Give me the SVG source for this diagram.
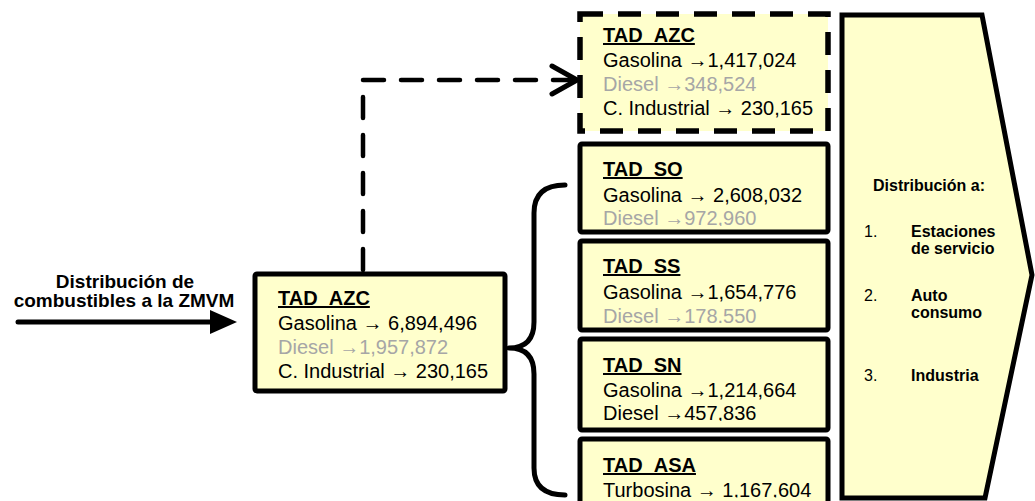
<svg xmlns="http://www.w3.org/2000/svg" width="1035" height="501" viewBox="0 0 1035 501">
<style>
.box{fill:#FFFFCC;stroke:#000;stroke-width:5}
.dbox{fill:none;stroke:#000;stroke-width:5.5;stroke-dasharray:23 15}
.t{font-family:"Liberation Sans",Arial,sans-serif;font-size:20px;fill:#000}
.h{font-weight:bold;text-decoration:underline}
.g{fill:#A6A6A6}
.p{font-family:"Liberation Sans",Arial,sans-serif;font-size:16px;fill:#000}
.b{font-weight:bold}
.lab{font-family:"Liberation Sans",Arial,sans-serif;font-size:19px;font-weight:bold;fill:#000;text-anchor:middle}
.con{fill:none;stroke:#000;stroke-width:5;stroke-linecap:round;stroke-linejoin:round}
.dash{fill:none;stroke:#000;stroke-width:4.5;stroke-linecap:round;stroke-dasharray:21 17}
</style>
<defs>
<clipPath id="cDash"><rect x="583" y="17" width="242" height="111"/></clipPath>
<clipPath id="cSO"><rect x="583" y="147" width="242" height="79"/></clipPath>
<clipPath id="cSS"><rect x="583" y="244" width="242" height="79"/></clipPath>
<clipPath id="cSN"><rect x="583" y="342" width="242" height="79"/></clipPath>
<clipPath id="cASA"><rect x="583" y="442" width="242" height="55.5"/></clipPath>
</defs>

<g id="connectors">
<line x1="18" y1="322" x2="212" y2="322" class="con"/>
<polygon points="210,310 237,322 210,334" fill="#000"/>
<path class="dash" d="M363,270 V80 H572"/>
<path class="con" d="M552,66 L577,80 L552,94" stroke-width="4.5"/>
<path class="con" d="M565,185 Q534,185 534,213 V322 Q534,348 509,348 Q534,348 534,374 V468 Q534,495 565,495"/>
</g>

<g id="label">
<text class="lab" x="125" y="288">Distribución de</text>
<text class="lab" x="124" y="307">combustibles a la ZMVM</text>
</g>

<g id="tad-azc-main">
<rect class="box" x="255" y="274" width="250" height="117" rx="2"/>
<text class="t h" x="278" y="305">TAD_AZC</text>
<text class="t" x="278" y="330">Gasolina → 6,894,496</text>
<text class="t g" x="278" y="354">Diesel →1,957,872</text>
<text class="t" x="278" y="378">C. Industrial → 230,165</text>
</g>

<g id="tad-azc-top">
<rect x="580" y="14" width="248" height="117" fill="#FFFFCC"/>
<g clip-path="url(#cDash)">
<text class="t h" x="603" y="42">TAD_AZC</text>
<text class="t" x="603" y="67">Gasolina →1,417,024</text>
<text class="t g" x="603" y="91">Diesel →348,524</text>
<text class="t" x="603" y="115">C. Industrial → 230,165</text>
</g>
<rect class="dbox" x="580" y="14" width="248" height="117"/>
</g>

<g id="tad-so">
<rect class="box" x="580" y="144" width="248" height="88" rx="2"/>
<g clip-path="url(#cSO)">
<text class="t h" x="603" y="176">TAD_SO</text>
<text class="t" x="603" y="202">Gasolina → 2,608,032</text>
<text class="t g" x="603" y="225">Diesel →972,960</text>
</g>
</g>

<g id="tad-ss">
<rect class="box" x="580" y="241" width="248" height="89" rx="2"/>
<g clip-path="url(#cSS)">
<text class="t h" x="603" y="273">TAD_SS</text>
<text class="t" x="603" y="299">Gasolina →1,654,776</text>
<text class="t g" x="603" y="323">Diesel →178,550</text>
</g>
</g>

<g id="tad-sn">
<rect class="box" x="580" y="339" width="248" height="91" rx="2"/>
<g clip-path="url(#cSN)">
<text class="t h" x="603" y="372">TAD_SN</text>
<text class="t" x="603" y="397">Gasolina →1,214,664</text>
<text class="t" x="603" y="420">Diesel →457,836</text>
</g>
</g>

<g id="tad-asa">
<rect class="box" x="580" y="439" width="248" height="70" rx="2"/>
<g clip-path="url(#cASA)">
<text class="t h" x="603" y="472">TAD_ASA</text>
<text class="t" x="603" y="497">Turbosina → 1,167,604</text>
</g>
</g>

<g id="distribucion">
<polygon class="box" points="842,15 982,15 1032,275 985,498 842,498"/>
<text class="p b" x="873" y="191">Distribución a:</text>
<text class="p" x="864" y="237">1.</text>
<text class="p b" x="911" y="237">Estaciones</text>
<text class="p b" x="911" y="254">de servicio</text>
<text class="p" x="864" y="301">2.</text>
<text class="p b" x="911" y="301">Auto</text>
<text class="p b" x="911" y="318">consumo</text>
<text class="p" x="864" y="381">3.</text>
<text class="p b" x="911" y="381">Industria</text>
</g>
</svg>
